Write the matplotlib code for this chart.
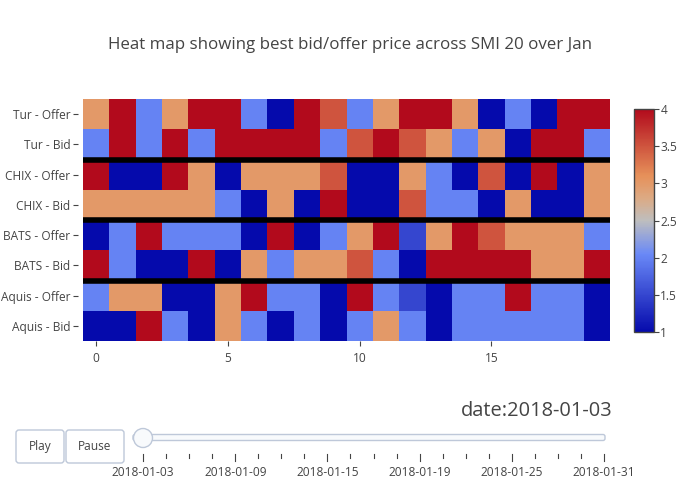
import numpy as np
import matplotlib
matplotlib.use("Agg")
import matplotlib.pyplot as plt
from matplotlib.colors import LinearSegmentedColormap
from matplotlib.patches import FancyBboxPatch, Circle

plt.rcParams['font.family'] = ['Open Sans', 'DejaVu Sans']

# ---------------- data ----------------
venues = ["Aquis - Bid", "Aquis - Offer", "BATS - Bid", "BATS - Offer",
          "CHIX - Bid", "CHIX - Offer", "Tur - Bid", "Tur - Offer"]
stocks = list(range(20))

aquis_bid   = [1, 1, 4, 2, 1, 3, 2, 1, 2, 1, 2, 3, 2, 1, 2, 2, 2, 2, 2, 1]
aquis_offer = [2, 3, 3, 1, 1, 3, 4, 2, 2, 1, 4, 2, 1.5, 1, 2, 2, 4, 2, 2, 1]
bats_bid    = [4, 2, 1, 1, 4, 1, 3, 2, 3, 3, 3.5, 2, 1, 4, 4, 4, 4, 3, 3, 4]
bats_offer  = [1, 2, 4, 2, 2, 2, 1, 4, 1, 2, 3, 4, 1.5, 3, 4, 3.5, 3, 3, 3, 2]
chix_bid    = [3, 3, 3, 3, 3, 2, 1, 3, 1, 4, 1, 1, 3.5, 2, 2, 1, 3, 1, 1, 3]
chix_offer  = [4, 1, 1, 4, 3, 1, 3, 3, 3, 3.5, 1, 1, 3, 2, 1, 3.5, 1, 4, 1, 3]
tur_bid     = [2, 4, 2, 4, 2, 4, 4, 4, 4, 2, 3.5, 4, 3.5, 3, 2, 3, 1, 4, 4, 2]
tur_offer   = [3, 4, 2, 3, 4, 4, 2, 1, 4, 3.5, 2, 3, 4, 4, 3, 1, 2, 1, 4, 4]

separators = [1.5, 3.5, 5.5]
x_ticks = [0, 5, 10, 15]
cbar_ticks = [1, 1.5, 2, 2.5, 3, 3.5, 4]

dates = ["2018-01-03", "2018-01-04", "2018-01-05", "2018-01-08", "2018-01-09",
         "2018-01-10", "2018-01-11", "2018-01-12", "2018-01-15", "2018-01-16",
         "2018-01-17", "2018-01-18", "2018-01-19", "2018-01-22", "2018-01-23",
         "2018-01-24", "2018-01-25", "2018-01-26", "2018-01-29", "2018-01-30",
         "2018-01-31"]
current_date = "2018-01-03"
title = "Heat map showing best bid/offer price across SMI 20 over Jan"

z = np.array([aquis_bid, aquis_offer, bats_bid, bats_offer,
              chix_bid, chix_offer, tur_bid, tur_offer], dtype=float)

# Plotly RdBu colorscale
stops = [(0.0, (5, 10, 172)), (0.35, (106, 137, 247)), (0.5, (190, 190, 190)),
         (0.6, (220, 170, 132)), (0.7, (230, 145, 90)), (1.0, (178, 10, 28))]
cmap = LinearSegmentedColormap.from_list(
    "plotly_rdbu", [(p, tuple(c / 255 for c in rgb)) for p, rgb in stops])

TXT = "#444444"
W, H = 700, 500
fig = plt.figure(figsize=(7, 5), dpi=100)

def px(x0, y0, x1, y1):
    return [x0 / W, 1 - y1 / H, (x1 - x0) / W, (y1 - y0) / H]

ax = fig.add_axes(px(83, 99, 610, 341))
mesh = ax.pcolormesh(np.arange(-0.5, len(stocks)), np.arange(-0.5, len(venues)), z,
                     cmap=cmap, vmin=1, vmax=4)
for s in separators:
    ax.axhline(s, color="black", linewidth=4)
ax.set_xlim(-0.5, len(stocks) - 0.5)
ax.set_ylim(-0.5, len(venues) - 0.5)
ax.set_xticks(x_ticks)
ax.set_yticks(range(len(venues)))
ax.set_yticklabels(venues)
for sp in ax.spines.values():
    sp.set_visible(False)
ax.spines['left'].set_position(('outward', 3.6))
ax.tick_params(axis='both', colors=TXT, labelsize=8.6, length=3.6, width=0.8)
ax.tick_params(axis='x', pad=4)
ax.tick_params(axis='y', pad=2)

cax = fig.add_axes(px(634, 109, 654, 332))
cb = fig.colorbar(mesh, cax=cax, ticks=cbar_ticks)
cb.set_ticklabels([f"{t:g}" for t in cbar_ticks])
cb.outline.set_edgecolor("#444444")
cb.outline.set_linewidth(1)
cax.tick_params(colors=TXT, labelsize=8.6, length=3.6, width=0.8, pad=1)

fig.text(350 / W, 1 - 45 / H, title, ha="center", va="center",
         fontsize=12.2, color=TXT)

# ---------------- slider / buttons overlay ----------------
ov = fig.add_axes([0, 0, 1, 1], facecolor="none")
ov.set_xlim(0, W)
ov.set_ylim(H, 0)
ov.axis("off")

for (bx0, bx1, label) in [(16, 64, "Play"), (66, 124, "Pause")]:
    ov.add_patch(FancyBboxPatch((bx0, 430), bx1 - bx0, 33,
                                boxstyle="round,pad=0,rounding_size=3",
                                facecolor="white", edgecolor="#bec8d9", linewidth=1))
    ov.text((bx0 + bx1) / 2, 446.5, label, ha="center", va="center",
            fontsize=8.6, color=TXT)

s_x0, s_x1 = 143, 604
ov.add_patch(FancyBboxPatch((133, 434.5), 472, 6,
                            boxstyle="round,pad=0,rounding_size=2",
                            facecolor="#f8fafc", edgecolor="#bec8d9", linewidth=1))
n = len(dates)
step = (s_x1 - s_x0) / (n - 1)
for i, d in enumerate(dates):
    xx = s_x0 + i * step
    major = (i % 4 == 0)
    ov.plot([xx, xx], [454, 461 if major else 458], color=TXT, linewidth=0.8)
    if major:
        ov.text(xx, 472, d, ha="center", va="center", fontsize=8.6, color=TXT)
cur = dates.index(current_date)
ov.add_patch(Circle((s_x0 + cur * step, 438), 9.5, facecolor="#f8fafc",
                    edgecolor="#bec8d9", linewidth=1, zorder=5))
ov.text(612, 411, "date:" + current_date, ha="right", va="center",
        fontsize=14.4, color=TXT)

fig.savefig("out.png", dpi=100)
